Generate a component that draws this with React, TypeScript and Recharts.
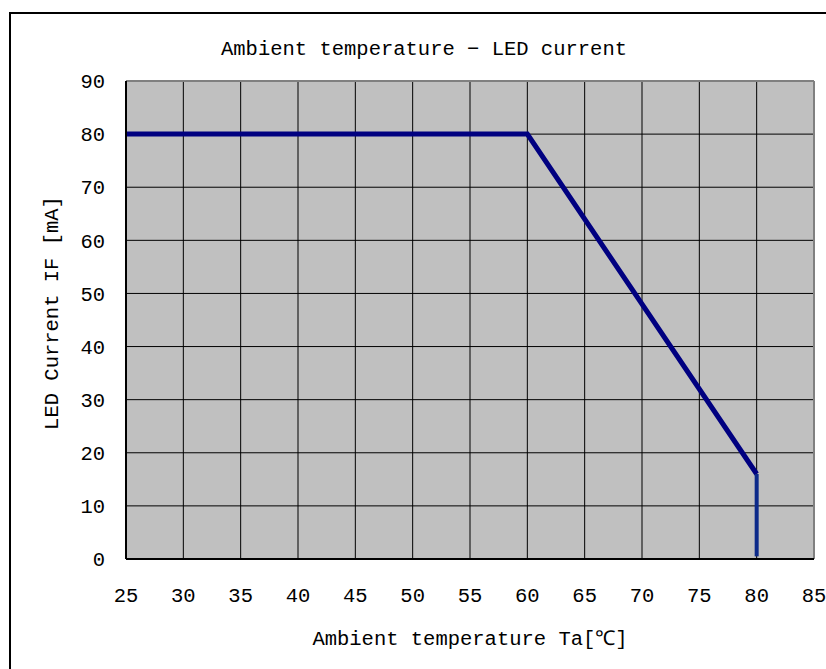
import { LineChart, Line, XAxis, YAxis, CartesianGrid, ReferenceLine } from 'recharts'

// Ambient temperature Ta (°C) vs. LED current IF (mA)
const deratingTemp = [25, 60, 80]
const deratingCurrent = [80, 80, 16]
const cutoffTemp = [80, 80]
const cutoffCurrent = [16, 0.5]

const xTicks = [25, 30, 35, 40, 45, 50, 55, 60, 65, 70, 75, 80, 85]
const yTicks = [0, 10, 20, 30, 40, 50, 60, 70, 80, 90]

const derating = deratingTemp.map((t, i) => ({ ta: t, current: deratingCurrent[i] }))
const cutoff = cutoffTemp.map((t, i) => ({ ta: t, current: cutoffCurrent[i] }))

const font = '"Liberation Mono", "DejaVu Sans Mono", monospace'

export default function App() {
  return (
    <div
      style={{
        position: 'fixed',
        left: 0,
        top: 0,
        width: 826,
        height: 669,
        overflow: 'hidden',
        background: '#fff',
        fontFamily: font,
      }}
    >
      {/* outer frame */}
      <div
        style={{
          position: 'absolute',
          left: 9,
          top: 12,
          width: 900,
          height: 900,
          borderLeft: '2px solid #000',
          borderTop: '2px solid #000',
        }}
      />
      <div
        style={{
          position: 'absolute',
          left: 0,
          top: 38,
          width: 848,
          textAlign: 'center',
          fontSize: 20.5,
          color: '#000',
        }}
      >
        Ambient temperature − LED current
      </div>
      <div
        style={{
          position: 'absolute',
          left: 52,
          top: 313,
          transform: 'translate(-50%, -50%) rotate(-90deg)',
          whiteSpace: 'nowrap',
          fontSize: 20.5,
          color: '#000',
        }}
      >
        LED Current IF [mA]
      </div>
      <div style={{ position: 'absolute', left: 0, top: 0 }}>
        <LineChart
          width={826}
          height={669}
          margin={{ top: 81, right: 12, left: 66, bottom: 80 }}
        >
          <CartesianGrid
            stroke="#000"
            strokeWidth={1}
            fill="#c0c0c0"
            fillOpacity={1}
          />
          <XAxis
            dataKey="ta"
            type="number"
            domain={[25, 85]}
            ticks={xTicks}
            allowDuplicatedCategory={false}
            tickLine={false}
            tickSize={0}
            tickMargin={28}
            axisLine={{ stroke: '#000', strokeWidth: 2 }}
            tick={{ fill: '#000', fontSize: 20.5, fontFamily: font }}
            height={30}
            label={{
              value: 'Ambient temperature Ta[℃]',
              position: 'bottom',
              offset: 41,
              fill: '#000',
              fontSize: 20.5,
              fontFamily: font,
            }}
          />
          <YAxis
            dataKey="current"
            type="number"
            domain={[0, 90]}
            ticks={yTicks}
            tickLine={false}
            tickSize={0}
            tickMargin={21}
            width={60}
            axisLine={{ stroke: '#000', strokeWidth: 2 }}
            tick={{ fill: '#000', fontSize: 20.5, fontFamily: font }}
          />
          <ReferenceLine y={90} stroke="#808080" strokeWidth={2} />
          <ReferenceLine x={85} stroke="#808080" strokeWidth={2} />
          <Line
            data={derating}
            dataKey="current"
            type="linear"
            stroke="#000080"
            strokeWidth={5}
            dot={false}
            isAnimationActive={false}
          />
          <Line
            data={cutoff}
            dataKey="current"
            type="linear"
            stroke="#0c2a8a"
            strokeWidth={4}
            dot={false}
            isAnimationActive={false}
          />
        </LineChart>
      </div>
    </div>
  )
}
